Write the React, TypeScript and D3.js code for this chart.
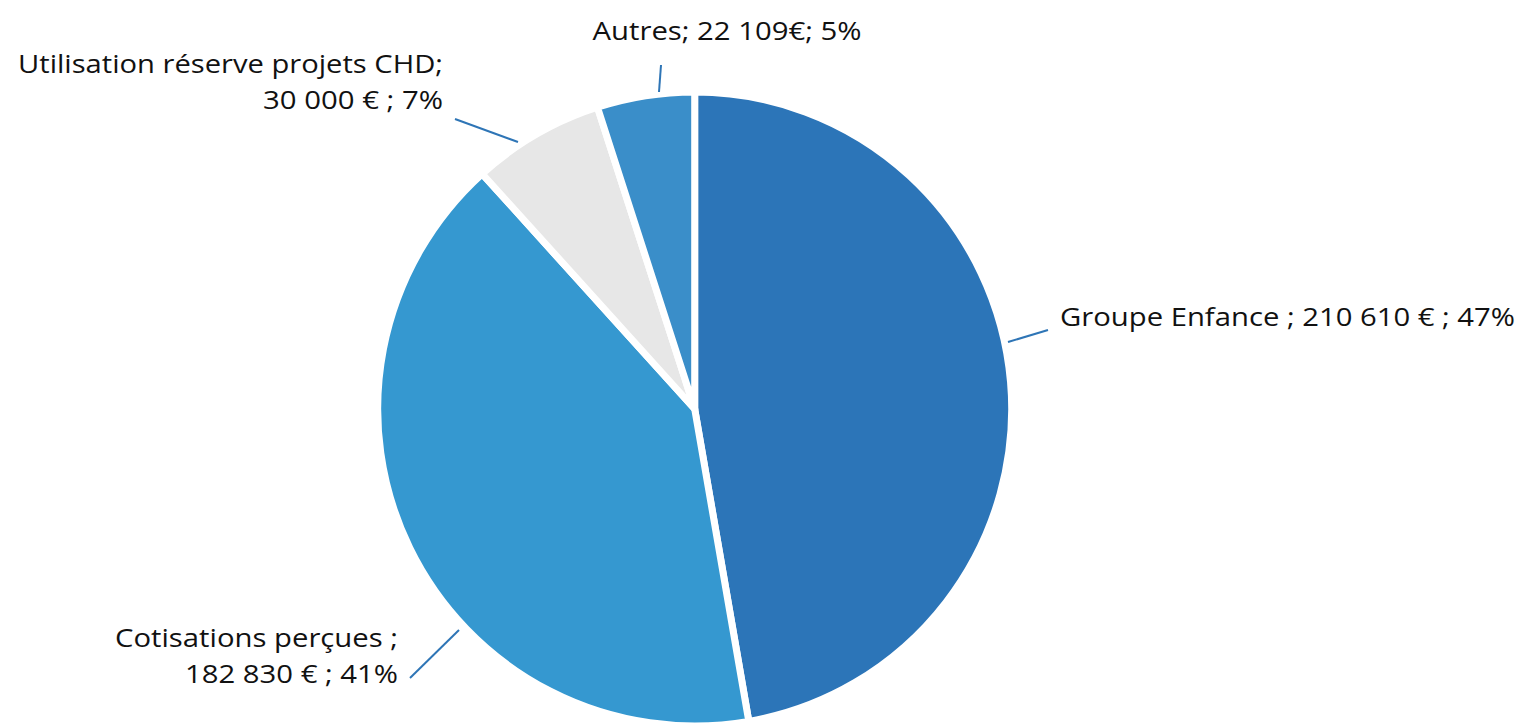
import React from "react";
import * as d3 from "d3";

const categories = ["Groupe Enfance", "Cotisations perçues", "Utilisation réserve projets CHD", "Autres"];
const values = [210610, 182830, 30000, 22109];
const labelLines = [
  ["Groupe Enfance ; 210 610 € ; 47%"],
  ["Cotisations perçues ;", "182 830 € ; 41%"],
  ["Utilisation réserve projets CHD;", "30 000 € ; 7%"],
  ["Autres; 22 109€; 5%"],
];
const colors = ["#2C75B8", "#3598D0", "#E7E7E7", "#3A8EC9"];

const W = 1523, H = 724;
const cx = 694.7, cy = 409, R = 317;

const labelCfg = [
  { x: 1060, y: 326, anchor: "start", widths: [455], lineFrom: [1008, 342], lineTo: [1048, 330] },
  { x: 398, y: 647, anchor: "end", widths: [283, 213], lineFrom: [459, 630], lineTo: [410, 678] },
  { x: 443, y: 73, anchor: "end", widths: [425, 180], lineFrom: [518, 142], lineTo: [455, 119] },
  { x: 727, y: 40, anchor: "middle", widths: [269], lineFrom: [659, 92], lineTo: [661, 65] },
];

export default function App() {
  const pie = d3.pie<number>().sort(null).value((d) => d)(values);
  const arc = d3.arc<d3.PieArcDatum<number>>().innerRadius(0).outerRadius(R);
  return (
    <svg width={W} height={H} style={{ position: "absolute", left: 0, top: 0, background: "#fff" }}
      fontFamily="'Open Sans', sans-serif">
      <g transform={`translate(${cx},${cy})`}>
        {pie.map((p, i) => (
          <path key={categories[i]} d={arc(p) || ""} fill={colors[i]} stroke="#fff" strokeWidth={7} strokeLinejoin="round" />
        ))}
      </g>
      {labelCfg.map((c, i) => (
        <g key={i}>
          <line x1={c.lineFrom[0]} y1={c.lineFrom[1]} x2={c.lineTo[0]} y2={c.lineTo[1]} stroke="#2E75B6" strokeWidth={2} />
          {labelLines[i].map((t, j) => (
            <text key={j} x={c.x} y={c.y + j * 35.5} textAnchor={c.anchor} fontSize={26} fill="#111"
              textLength={c.widths[j]} lengthAdjust="spacingAndGlyphs">{t}</text>
          ))}
        </g>
      ))}
    </svg>
  );
}
